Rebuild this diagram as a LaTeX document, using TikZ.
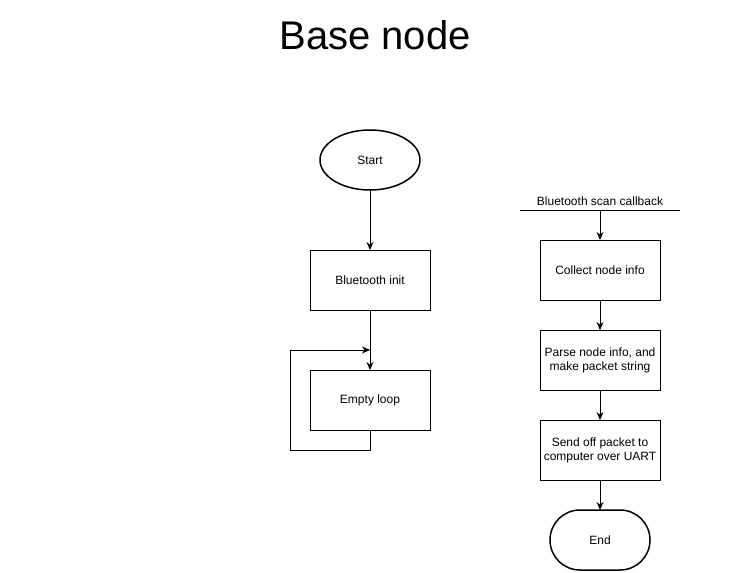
\documentclass[tikz,border=0pt]{standalone}
\usepackage{fontspec}
\setmainfont{Liberation Sans}
\usetikzlibrary{arrows.meta,calc,positioning,shapes.geometric}
\tikzset{
   flow chart/.style={%one unit is one pixel of the sketch, y runs downwards
      x=1pt, y=-1pt,
      line width=1pt,
      node distance=60pt,
      every node/.style={font=\fontsize{12}{14}\selectfont, inner sep=0pt, outer sep=0pt},
      ar/.style={-{Stealth[length=8pt,width=7pt]}}
      },
   stepbox/.style={draw, minimum width=120pt, minimum height=60pt, align=center},
   start term/.style={draw, ellipse, line width=1.5pt, minimum width=100pt, minimum height=60pt},
   end term/.style={draw, rounded corners=29.9pt, line width=1.5pt, minimum width=100pt, minimum height=60pt}
}
\begin{document}
\begin{tikzpicture}[flow chart]
  \useasboundingbox (0,0) rectangle (751,572);
  \node[font=\fontsize{40}{48}\selectfont] (title) at (375,35) {Base node};
  % main program
  \node[start term] (start) at (370,160) {Start};
  \node[stepbox, below=of start] (btinit) {Bluetooth init};
  \node[stepbox, below=of btinit] (emptyloop) {Empty loop};
  \coordinate (loopback) at ($(emptyloop.north)+(0,-20)$);
  \draw[ar] (start) -- (btinit);
  \draw[ar] (btinit) -- (emptyloop);
  \draw[ar] (emptyloop.south) -- ++(0,20) -- ++(-80,0) -- ++(0,-100) -- (loopback);
  % scan callback
  \node (cb) at (600,201) {Bluetooth scan callback};
  \coordinate (cb_l) at (520,210);
  \coordinate (cb_r) at (680,210);
  \coordinate (cb_m) at (600,210);
  \draw (cb_l) -- (cb_r);
  \begin{scope}[node distance=30pt]
  \node[stepbox, below=of cb_m] (collect) {Collect node info};
  \node[stepbox, below=of collect] (parse) {Parse node info, and\\make packet string};
  \node[stepbox, below=of parse] (send) {Send off packet to\\computer over UART};
  \node[end term, below=of send] (end) {End};
  \end{scope}
  \draw[ar] (cb_m) -- (collect);
  \draw[ar] (collect) -- (parse);
  \draw[ar] (parse) -- (send);
  \draw[ar] (send) -- (end);
\end{tikzpicture}
\end{document}
